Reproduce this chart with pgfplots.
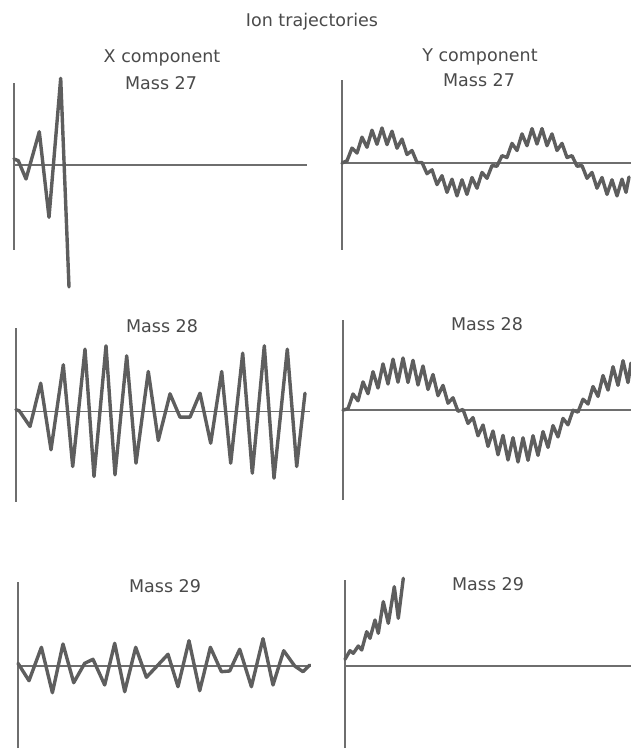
\documentclass[border=0pt]{standalone}
\usepackage{fontspec}
\setmainfont{DejaVu Sans}
\usepackage{pgfplots}
\pgfplotsset{compat=1.18}
\definecolor{curve}{HTML}{5E5E5E}
\definecolor{axisc}{HTML}{6E6E6E}
\definecolor{txt}{HTML}{4A4A4A}
\pgfplotsset{traj/.style={x=1pt,y=1pt,axis lines=middle,
  axis line style={-, axisc, line width=1.6pt}, ticks=none, clip=false,
  anchor=origin, xmin=0}}
\tikzset{trj/.style={curve, line width=3.4pt, line join=round, line cap=round},
  lab/.style={txt, anchor=base, font=\fontsize{17.5}{20}\selectfont}}
\begin{document}
\begin{tikzpicture}[x=1pt,y=1pt]
\path[use as bounding box] (0,0) rectangle (631,749);
% ---- X component, mass 27
\begin{axis}[traj, at={(14pt,584pt)}, xmax=293, ymin=-85, ymax=82]
\addplot[trj] coordinates {(0,6) (4.3,4.3) (12,-14) (25.3,33.3) (35,-52.3) (46.7,86.7) (55,-122)};
\end{axis}
% ---- Y component, mass 27
\begin{axis}[traj, at={(342pt,586pt)}, xmax=289, ymin=-87, ymax=83]
\addplot[trj] coordinates {(0,0) (5,2.2) (10,14.9) (15,9.9) (20,25.8) (25,15.7) (30,32.8) (35,18.7) (40,35.0) (45,18.4) (50,31.8) (55,14.8) (60,23.9) (65,8.5) (70,12.5) (75,0.5) (80,0.5) (85,-10.7) (90,-6.8) (95,-21.6) (100,-12.7) (105,-29.4) (110,-16.2) (115,-32.9) (120,-16.8) (125,-31.4) (130,-14.5) (135,-25.2) (140,-9.4) (145,-15.3) (150,-2.6) (155,-3.2) (160,7.3) (165,5.5) (170,19.6) (175,12.5) (180,29.1) (185,17.3) (190,34.4) (195,19.0) (200,34.4) (205,17.3) (210,29.1) (215,12.5) (220,19.6) (225,5.5) (230,7.3) (235,-3.2) (240,-2.6) (245,-15.3) (250,-9.4) (255,-25.2) (260,-14.5) (265,-31.4) (270,-16.8) (275,-32.9) (280,-16.2) (284,-29.4) (287,-14)};
\end{axis}
% ---- X component, mass 28
\begin{axis}[traj, at={(16pt,337.5pt)}, xmax=294, ymin=-90, ymax=83]
\addplot[trj] coordinates {(0,1.7) (3.3,0.7) (14,-15) (24.7,28.3) (35,-38.3) (47.3,46.7) (56.7,-55) (69,62.3) (78,-65) (90,65.7) (99,-63.3) (110.7,55.7) (120,-51.7) (132.3,40) (142.3,-29) (154,17.7) (164,-5.7) (174,-5.7) (184,18.3) (194.7,-31.7) (205.7,40) (214.7,-51.7) (226.7,58.3) (236.3,-61.7) (248.3,65.7) (258,-66.7) (271.3,62.3) (280.7,-55) (289,18.3)};
\end{axis}
% ---- Y component, mass 28
\begin{axis}[traj, at={(343pt,339pt)}, xmax=288, ymin=-90, ymax=90]
\addplot[trj] coordinates {(0,0) (5,1.2) (10,16.0) (15,9.2) (20,28.1) (25,16.3) (30,38.3) (35,22.0) (40,46.1) (45,26.0) (50,50.8) (55,27.8) (60,52.0) (65,27.5) (70,49.7) (75,25.0) (80,44.0) (85,20.5) (90,35.5) (95,14.3) (100,24.6) (105,6.8) (110,12.2) (115,-1.3) (120,0.5) (125,-13.4) (130,-7.6) (135,-25.8) (140,-15.0) (145,-36.4) (150,-21.0) (155,-44.8) (160,-25.4) (165,-50.0) (170,-27.7) (175,-52.0) (180,-27.8) (185,-50.3) (190,-25.7) (195,-45.4) (200,-21.6) (205,-37.4) (210,-15.6) (215,-26.9) (220,-8.4) (225,-14.8) (230,-0.3) (235,-2.1) (240,10.8) (245,6.0) (250,23.5) (255,13.6) (260,34.5) (265,19.9) (270,43.3) (275,24.7) (280,49.3) (285,27.4) (288,47)};
\end{axis}
% ---- X component, mass 29
\begin{axis}[traj, at={(18pt,83pt)}, xmax=293, ymin=-82, ymax=84]
\addplot[trj] coordinates {(0,2.7) (11,-14.7) (23.4,18.7) (34.4,-26.7) (45,22) (55.7,-16.7) (66.7,2.7) (75,6.7) (86.7,-19) (96.7,22.7) (106.7,-25.7) (117.7,18.7) (128.4,-11.3) (138.4,-0.7) (150,11.7) (160,-20.7) (171,25.3) (181.7,-24.7) (192.4,18.7) (203.4,-5.7) (211.7,-5) (221.7,16.7) (233.4,-20.7) (245,27.3) (255,-19) (265.7,15.3) (276.7,0) (285,-5.7) (291.7,1)};
\end{axis}
% ---- Y component, mass 29
\begin{axis}[traj, at={(345pt,83pt)}, xmax=286, ymin=-82, ymax=86]
\addplot[trj] coordinates {(0,6.7) (5,15.3) (8.3,12.7) (13.3,20) (16.7,16) (21.7,34.3) (25,27.7) (30,46) (33.3,32.7) (38.3,64.3) (43.3,42.7) (49.3,79.3) (53.3,47.7) (58.3,87.7)};
\end{axis}
% ---- texts
\node[lab] at (312,722) {Ion trajectories};
\node[lab] at (162,686) {X component};
\node[lab] at (480,687) {Y component};
\node[lab] at (161,659) {Mass 27};
\node[lab] at (479,662) {Mass 27};
\node[lab] at (162,416) {Mass 28};
\node[lab] at (487,418) {Mass 28};
\node[lab] at (165,156) {Mass 29};
\node[lab] at (488,158) {Mass 29};
\end{tikzpicture}
\end{document}
